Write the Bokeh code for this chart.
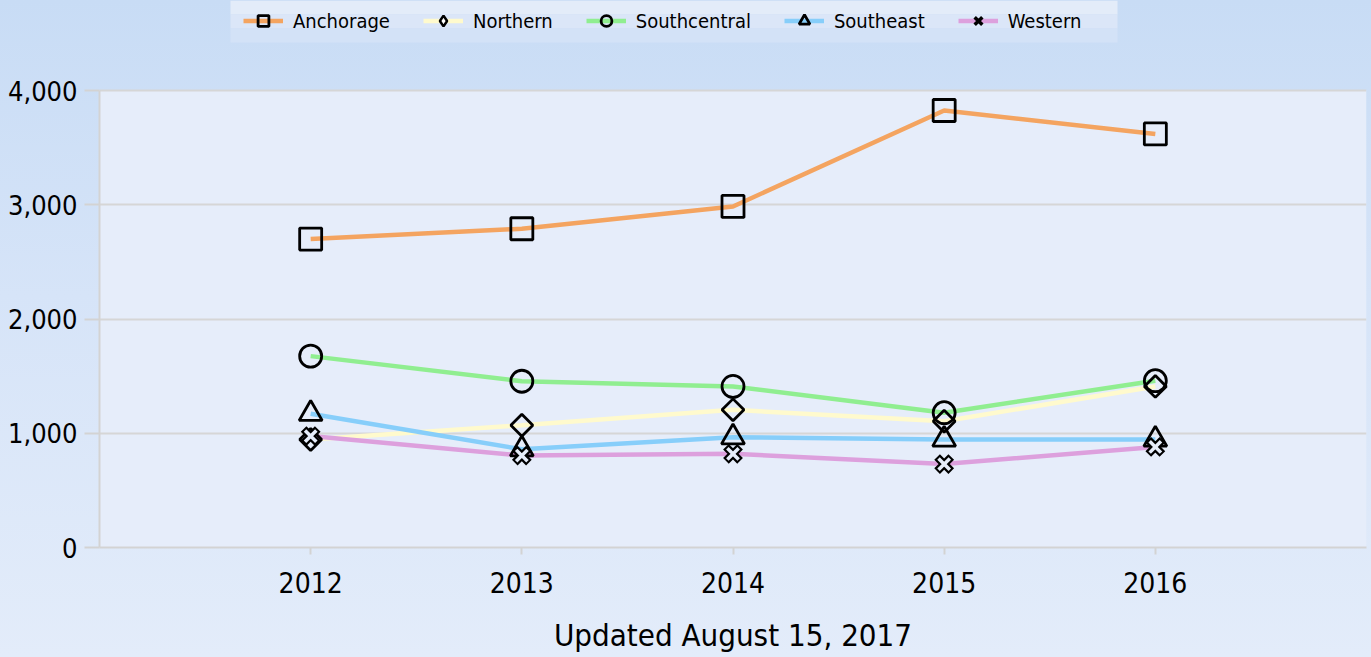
import numpy as np
from bokeh.plotting import figure
from bokeh.models import (Legend, LegendItem, FixedTicker, NumeralTickFormatter, Range1d,
                          ColumnDataSource, BoxAnnotation)
from bokeh.embed import file_html
from bokeh.resources import INLINE

years = [2012, 2013, 2014, 2015, 2016]
anchorage = [2700, 2790, 2985, 3825, 3620]
northern = [945, 1070, 1205, 1105, 1410]
southcentral = [1675, 1455, 1410, 1180, 1460]
southeast = [1170, 860, 965, 945, 945]
western = [975, 805, 820, 730, 880]
y_ticks = [0, 1000, 2000, 3000, 4000]
title_text = "Updated August 15, 2017"

FONT = "DejaVu Sans Condensed, DejaVu Sans"
PLOT_BG = "#E6EDFA"

Y_MAX = 4000
FRAME_LEFT = 99
FRAME_BOTTOM = 547
PLOT_TOP = 90
y_end = Y_MAX * FRAME_BOTTOM / (FRAME_BOTTOM - PLOT_TOP)

p = figure(width=1371, height=657, output_backend="svg", toolbar_location=None,
           x_range=Range1d(2011.0, 2017.0), y_range=Range1d(0, y_end),
           min_border_left=FRAME_LEFT, min_border_right=5, min_border_top=0, min_border_bottom=110)
p.styles = {"background": "linear-gradient(to bottom, #C8DCF5 0%, #D6E4F8 45%, #E3ECFA 100%)"}
p.border_fill_color = None
p.background_fill_alpha = 0
p.outline_line_color = None

# plot area background
p.add_layout(BoxAnnotation(bottom=0, top=Y_MAX, fill_color=PLOT_BG, fill_alpha=1,
                           line_color=None, level="image"))

# legend panel background (light vertical gradient); screen units are frame-relative, y upward
legend_strips = [(0, 14, "#E3ECF9"), (14, 28, "#DBE6F8"), (28, 42, "#D3E2F7")]
for t, b, c in legend_strips:
    p.add_layout(BoxAnnotation(left=230 - FRAME_LEFT, right=1117 - FRAME_LEFT,
                               top=FRAME_BOTTOM - t, bottom=FRAME_BOTTOM - b,
                               left_units="screen", right_units="screen",
                               top_units="screen", bottom_units="screen",
                               fill_color=c, fill_alpha=1, line_color=None, level="underlay"))

src = ColumnDataSource(dict(x=years, a=anchorage, n=northern, sc=southcentral, se=southeast, w=western))

lw = 4.5
r_a = p.line("x", "a", source=src, line_color="#F4A460", line_width=lw)
r_n = p.line("x", "n", source=src, line_color="#FFFACD", line_width=lw)
r_sc = p.line("x", "sc", source=src, line_color="#90EE90", line_width=lw)
r_se = p.line("x", "se", source=src, line_color="#87CEFA", line_width=lw)
r_w = p.line("x", "w", source=src, line_color="#DDA0DD", line_width=lw)

mlw = 2.8
m_a = p.scatter("x", "a", source=src, marker="square", size=22, fill_alpha=0, line_color="black", line_width=mlw)
m_sc = p.scatter("x", "sc", source=src, marker="circle", size=22, fill_alpha=0, line_color="black", line_width=mlw)
m_se = p.scatter("x", "se", source=src, marker="triangle", size=23, fill_alpha=0, line_color="black", line_width=mlw)
m_n = p.scatter("x", "n", source=src, marker="square", angle=np.pi / 4, size=15.5, fill_alpha=0, line_color="black", line_width=mlw)
m_w = p.scatter("x", "w", source=src, marker="x", size=20, line_color="black", line_width=8)
m_w2 = p.scatter("x", "w", source=src, marker="x", size=16, line_color=PLOT_BG, line_width=3.5)

# legend-only glyphs (not shown in plot)
lg_n = p.scatter("x", "n", source=src, marker="diamond", size=14, fill_color="white", line_color="black", line_width=2.5, visible=False)
lg_w = p.scatter("x", "w", source=src, marker="x", size=12, line_color="black", line_width=3.5, visible=False)

# axes
p.xaxis.ticker = FixedTicker(ticks=years)
p.yaxis.ticker = FixedTicker(ticks=y_ticks)
p.yaxis.formatter = NumeralTickFormatter(format="0,0")
p.yaxis.bounds = (0, Y_MAX)
for ax in (p.xaxis, p.yaxis):
    ax.axis_line_color = "#D3D3D3"
    ax.axis_line_width = 2
    ax.major_tick_line_color = "#D3D3D3"
    ax.major_tick_line_width = 2
    ax.minor_tick_line_color = None
    ax.major_tick_in = 0
    ax.major_label_text_font = FONT
    ax.major_label_text_color = "black"
p.yaxis.major_tick_out = 15
p.yaxis.major_label_standoff = 7
p.yaxis.major_label_text_font_size = "27px"
p.xaxis.major_tick_out = 7
p.xaxis.major_label_standoff = 17
p.xaxis.major_label_text_font_size = "28px"
p.xaxis.axis_label = title_text
p.xaxis.axis_label_text_font = FONT
p.xaxis.axis_label_text_font_size = "31px"
p.xaxis.axis_label_text_font_style = "normal"
p.xaxis.axis_label_text_color = "black"
p.xaxis.axis_label_standoff = 21

p.xgrid.grid_line_color = None
p.ygrid.grid_line_color = "#D6D6D6"
p.ygrid.grid_line_width = 2

legend = Legend(items=[
    LegendItem(label="Anchorage", renderers=[r_a, m_a]),
    LegendItem(label="Northern", renderers=[r_n, lg_n]),
    LegendItem(label="Southcentral", renderers=[r_sc, m_sc]),
    LegendItem(label="Southeast", renderers=[r_se, m_se]),
    LegendItem(label="Western", renderers=[r_w, lg_w]),
], orientation="horizontal", location=(243 - FRAME_LEFT, FRAME_BOTTOM - 34))
legend.background_fill_alpha = 0
legend.border_line_color = None
legend.label_text_font = FONT
legend.label_text_font_size = "20px"
legend.label_text_color = "black"
legend.glyph_width = 40
legend.glyph_height = 27
legend.label_standoff = 10
legend.spacing = 33
legend.padding = 0
legend.margin = 0
p.add_layout(legend, "center")

open("out.html", "w").write(file_html(p, INLINE))
